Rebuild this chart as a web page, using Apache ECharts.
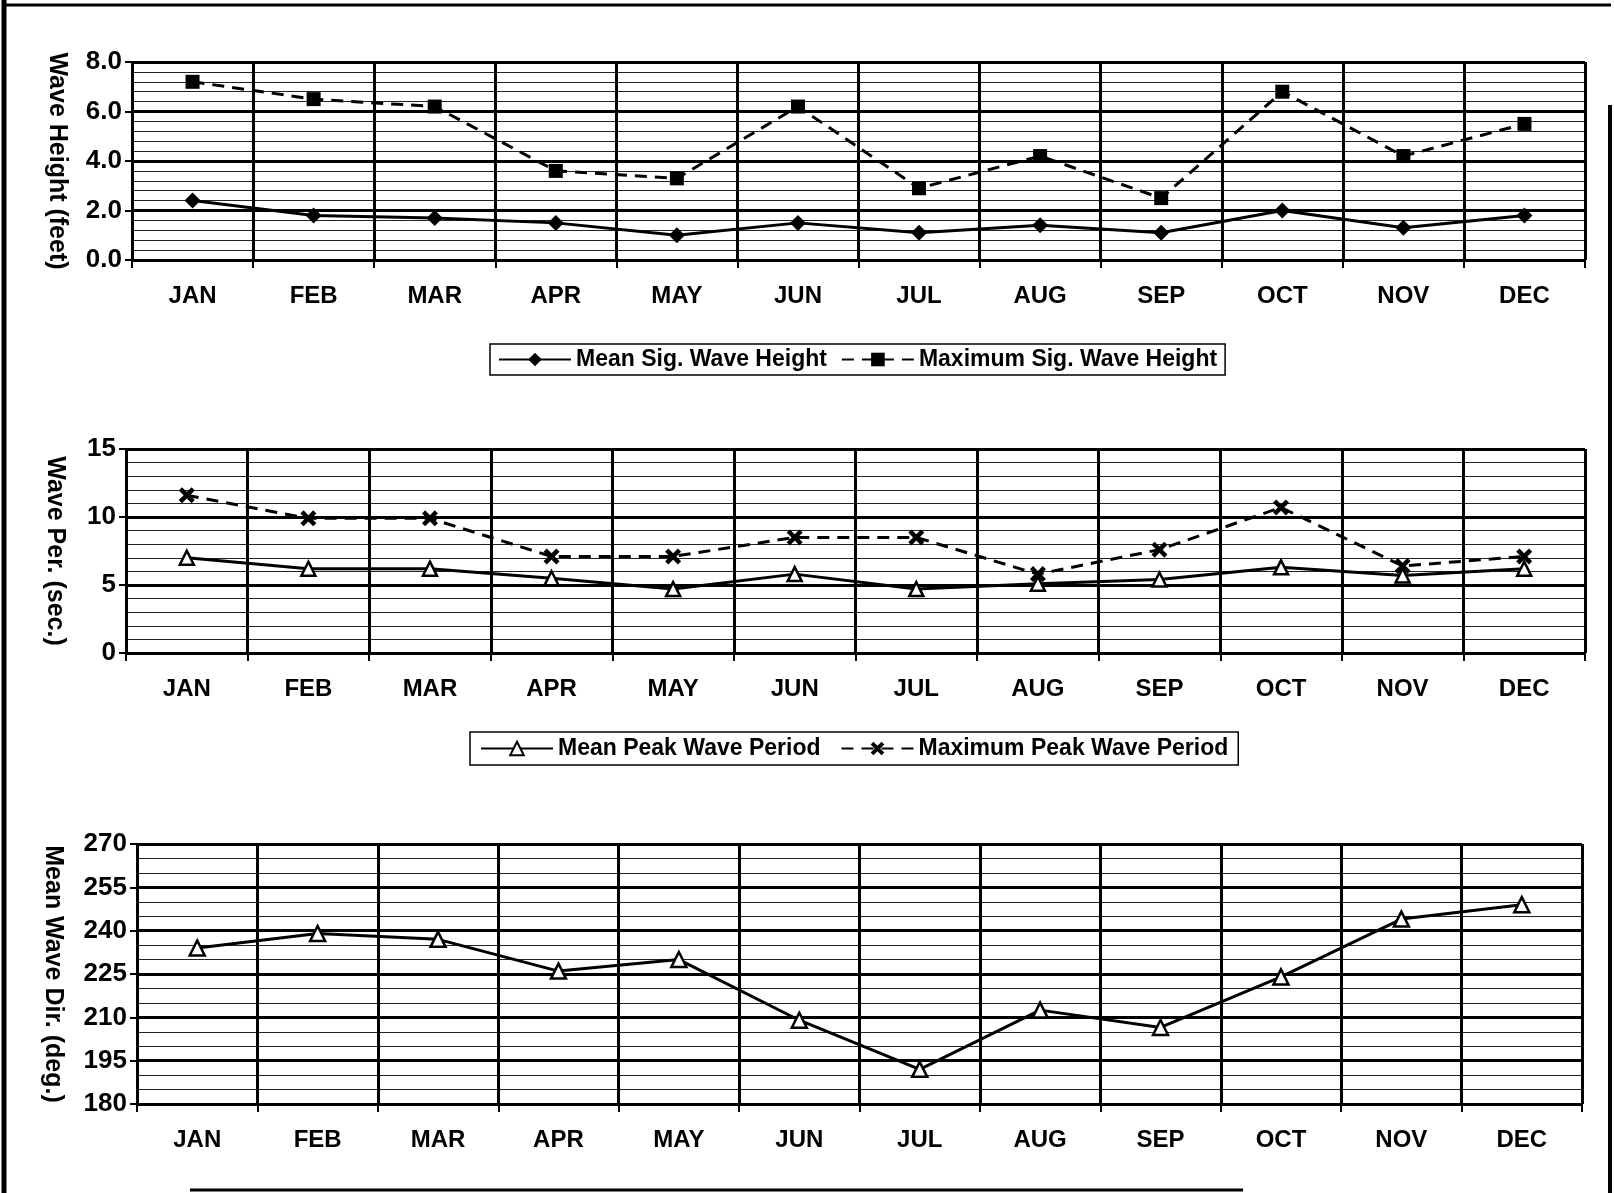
<!DOCTYPE html>
<html>
<head>
<meta charset="utf-8">
<script src="https://cdn.jsdelivr.net/npm/echarts@6/dist/echarts.min.js"></script>
<style>
html,body{margin:0;padding:0;background:#fff;}
#chart{width:1614px;height:1193px;}
</style>
</head>
<body>
<div id="chart"></div>
<script>
// ---- data ----
const months = ['JAN','FEB','MAR','APR','MAY','JUN','JUL','AUG','SEP','OCT','NOV','DEC'];
const meanSigWaveHeight = [2.4, 1.8, 1.7, 1.5, 1.0, 1.5, 1.1, 1.4, 1.1, 2.0, 1.3, 1.8];
const maxSigWaveHeight  = [7.2, 6.5, 6.2, 3.6, 3.3, 6.2, 2.9, 4.2, 2.5, 6.8, 4.2, 5.5];
const meanPeakWavePeriod = [7.0, 6.2, 6.2, 5.5, 4.7, 5.8, 4.7, 5.1, 5.4, 6.3, 5.7, 6.2];
const maxPeakWavePeriod  = [11.6, 9.9, 9.9, 7.1, 7.1, 8.5, 8.5, 5.8, 7.6, 10.7, 6.4, 7.1];
const meanWaveDir = [234, 239, 237, 226, 230, 209, 192, 212.5, 206.5, 224, 244, 249];

const heightTicks = {min: 0, max: 8, interval: 2};
const periodTicks = {min: 0, max: 15, interval: 5};
const dirTicks = {min: 180, max: 270, interval: 15};

// ---- chart ----
const FONT = '"Liberation Sans", Arial, sans-serif';
const chart = echarts.init(document.getElementById('chart'), null, {renderer: 'canvas'});

const grids = [
  {left: 132, right: 29, top: 62, height: 198},
  {left: 126, right: 29, top: 449, height: 204},
  {left: 137, right: 32, top: 844, height: 260}
];

function xAxis(i) {
  return {
    type: 'category', gridIndex: i, data: months, boundaryGap: true,
    axisLine: {show: true, lineStyle: {color: '#000', width: 2}},
    axisTick: {show: true, interval: 0, length: 8, lineStyle: {color: '#000', width: 2}},
    axisLabel: {interval: 0, margin: 24, color: '#000', fontFamily: FONT, fontSize: 24, fontWeight: 'bold'},
    splitLine: {show: true, interval: 0, lineStyle: {color: '#000', width: 3}}
  };
}
function yAxis(i, t, name, gap, minorSplit, fmt) {
  return {
    type: 'value', gridIndex: i, min: t.min, max: t.max, interval: t.interval,
    name: name, nameLocation: 'middle', nameRotate: -90, nameGap: gap,
    nameTextStyle: {color: '#000', fontFamily: FONT, fontSize: 25, fontWeight: 'bold'},
    axisLine: {show: true, lineStyle: {color: '#000', width: 2}},
    axisTick: {show: true, length: 7, lineStyle: {color: '#000', width: 2}},
    axisLabel: {margin: 10, color: '#000', fontFamily: FONT, fontSize: 26, fontWeight: 'bold', formatter: fmt},
    splitLine: {show: true, lineStyle: {color: '#000', width: 3}},
    minorTick: {show: false, splitNumber: minorSplit},
    minorSplitLine: {show: true, lineStyle: {color: '#222', width: 1}}
  };
}

const crossPath = 'path://M2,0 L5,3 L8,0 L10,2 L7,5 L10,8 L8,10 L5,7 L2,10 L0,8 L3,5 L0,2 Z';

function line(name, data, idx, dashed, symbol, size, hollow) {
  return {
    name: name, type: 'line', xAxisIndex: idx, yAxisIndex: idx, data: data,
    symbol: symbol, symbolSize: size, showSymbol: true,
    lineStyle: {color: '#000', width: 3, type: dashed ? [12, 8] : 'solid'},
    itemStyle: hollow ? {color: '#fff', borderColor: '#000', borderWidth: 2.5}
                      : {color: '#000', borderColor: '#000', borderWidth: 0},
    emphasis: {disabled: true},
    animation: false, z: 5
  };
}

const legendText = {color: '#000', fontFamily: FONT, fontSize: 23, fontWeight: 'bold'};

const option = {
  backgroundColor: '#fff',
  animation: false,
  grid: grids,
  xAxis: [xAxis(0), xAxis(1), xAxis(2)],
  yAxis: [
    yAxis(0, heightTicks, 'Wave Height (feet)', 63, 5, v => v.toFixed(1)),
    yAxis(1, periodTicks, 'Wave Per. (sec.)', 59, 5, v => String(v)),
    yAxis(2, dirTicks, 'Mean Wave Dir. (deg.)', 72, 3, v => String(v))
  ],
  legend: [
    {data: ['Mean Sig. Wave Height', 'Maximum Sig. Wave Height'], left: 490, top: 344,
     orient: 'horizontal', itemWidth: 72, itemHeight: 17, itemGap: 14, padding: [4, 8],
     borderColor: '#000', borderWidth: 1.5, textStyle: legendText, selectedMode: false},
    {data: ['Mean Peak Wave Period', 'Maximum Peak Wave Period'], left: 470, top: 732,
     orient: 'horizontal', itemWidth: 72, itemHeight: 17, itemGap: 20, padding: [5, 10],
     borderColor: '#000', borderWidth: 1.5, textStyle: legendText, selectedMode: false}
  ],
  series: [
    line('Mean Sig. Wave Height', meanSigWaveHeight, 0, false, 'diamond', 16, false),
    line('Maximum Sig. Wave Height', maxSigWaveHeight, 0, true, 'rect', 14, false),
    line('Mean Peak Wave Period', meanPeakWavePeriod, 1, false, 'triangle', 14, true),
    line('Maximum Peak Wave Period', maxPeakWavePeriod, 1, true, crossPath, 16, false),
    line('Mean Wave Dir', meanWaveDir, 2, false, 'triangle', 15, true)
  ],
  graphic: [
    {type: 'line', shape: {x1: 4, y1: 0, x2: 4, y2: 1193}, style: {stroke: '#000', lineWidth: 5}},
    {type: 'line', shape: {x1: 4, y1: 5, x2: 1611, y2: 5}, style: {stroke: '#000', lineWidth: 3}},
    {type: 'line', shape: {x1: 1610, y1: 105, x2: 1610, y2: 1193}, style: {stroke: '#000', lineWidth: 4}},
    {type: 'line', shape: {x1: 190, y1: 1190, x2: 1243, y2: 1190}, style: {stroke: '#000', lineWidth: 3}}
  ]
};
chart.setOption(option);
</script>
</body>
</html>
